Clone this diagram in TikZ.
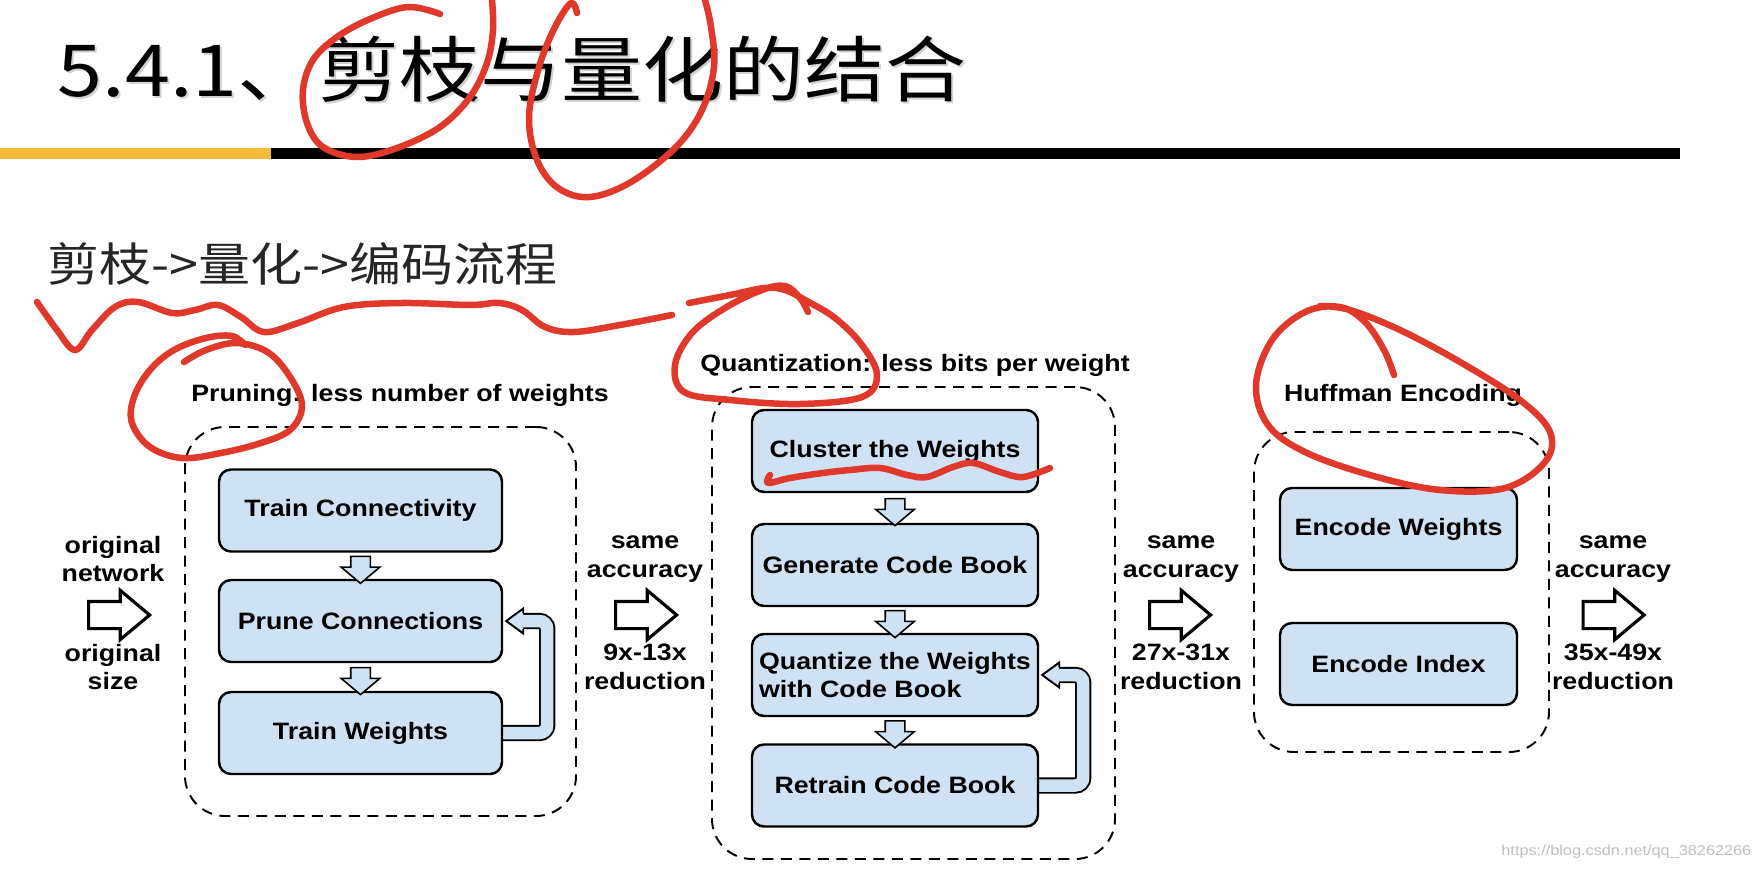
\documentclass[tikz,border=0pt]{standalone}
\usepackage{fontspec}
\setmainfont{Liberation Sans}[FakeStretch=1.13]
\newfontfamily\cjkfont{Noto Sans CJK SC}[FakeStretch=1.13]
\usetikzlibrary{arrows.meta, positioning, shapes.arrows, calc, backgrounds}
\definecolor{cpblue}{HTML}{CFE2F3}
\definecolor{cporange}{HTML}{F6BB3B}
\definecolor{cpink}{HTML}{E0392B}

\begin{document}
\begin{tikzpicture}[
  every node/.style={font=\fontsize{6.74}{8.1}\selectfont\bfseries},
  stepbox/.style={rectangle, rounded corners=1.2mm, draw, line width=0.7pt, fill=cpblue, minimum width=#1, minimum height=0.82cm, inner xsep=1pt, align=center},
  groupbox/.style={rectangle, rounded corners=4mm, draw, line width=0.55pt, dash pattern=on 1.1mm off 0.75mm},
  sidelabel/.style={align=center},
  stagearrow/.style={single arrow, draw, line width=0.9pt, fill=white, inner xsep=0pt, inner ysep=0.12cm, minimum height=0.61cm, single arrow head extend=0.11cm, single arrow tip angle=80},
  flowarrow/.style={single arrow, draw, line width=0.45pt, fill=cpblue, inner xsep=0pt, inner ysep=0.09cm, rotate=-90, minimum height=0.27cm, single arrow head extend=0.095cm, single arrow tip angle=100},
  loopband/.style={draw=black, line width=0.55pt, double=cpblue, double distance=1.25mm, rounded corners=0.8mm},
  looptip/.style={line width=0.55pt, line join=miter},
  inkline/.style={cpink, line width=0.65mm, line cap=round, line join=round},
]
\useasboundingbox (0,0) rectangle (17.6,8.74);

% Slide title and rule
\node[anchor=base west, inner sep=0pt, text=black!18, font=\cjkfont\fontsize{20.4}{24}\selectfont] (titleshadow) at (0.59, 7.75) {5.4.1、剪枝与量化的结合};
\node[anchor=base west, inner sep=0pt, font=\cjkfont\fontsize{20.4}{24}\selectfont] (title) at (0.57, 7.77) {5.4.1、剪枝与量化的结合};
\draw[cporange, line width=1.1mm] (0,7.205) -- (2.71,7.205);
\draw[black, line width=1.1mm] (2.71,7.205) -- (16.80,7.205);

\node[anchor=base west, inner sep=0pt, text=black!85, font=\cjkfont\fontsize{13.1}{15}\selectfont] (subtitle) at (0.47, 5.92) {剪枝->量化->编码流程};

% Stage groups
\node[groupbox, minimum width=3.91cm, minimum height=3.89cm] (prunegrp) at (3.805, 2.525) {};
\node[groupbox, minimum width=4.03cm, minimum height=4.72cm] (quantgrp) at (9.135, 2.51) {};
\node[groupbox, minimum width=2.95cm, minimum height=3.20cm] (huffgrp) at (14.015, 2.82) {};

\node (prunelbl) at (4.00, 4.79) {Pruning: less number of weights};
\node (quantlbl) at (9.15, 5.09) {Quantization: less bits per weight};
\node (hufflbl) at (14.03, 4.79) {Huffman Encoding};

% Pruning steps
\node[stepbox=2.83cm] (tc) at (3.605, 3.635) {Train Connectivity};
\node[stepbox=2.83cm] (pc) at (3.605, 2.53) {Prune Connections};
\node[stepbox=2.83cm] (tw) at (3.605, 1.41) {Train Weights};

% Quantization steps
\node[stepbox=2.86cm] (cw) at (8.95, 4.23) {Cluster the Weights};
\node[stepbox=2.86cm] (gcb) at (8.95, 3.09) {Generate Code Book};
\node[stepbox=2.86cm, align=left] (qw) at (8.95, 1.99) {Quantize the Weights\\with Code Book};
\node[stepbox=2.86cm] (rcb) at (8.95, 0.885) {Retrain Code Book};

% Huffman steps
\node[stepbox=2.37cm] (ew) at (13.985, 3.45) {Encode Weights};
\node[stepbox=2.37cm] (ei) at (13.985, 2.10) {Encode Index};

\node[flowarrow] (tc2pc) at ($(tc.south)!0.5!(pc.north)$) {};
\node[flowarrow] (pc2tw) at ($(pc.south)!0.5!(tw.north)$) {};
\node[flowarrow] (cw2gcb) at ($(cw.south)!0.5!(gcb.north)$) {};
\node[flowarrow] (gcb2qw) at ($(gcb.south)!0.5!(qw.north)$) {};
\node[flowarrow] (qw2rcb) at ($(qw.south)!0.5!(rcb.north)$) {};

% Retrain loops
\begin{scope}[on background layer]
  \draw[loopband] (tw.east) -- ++(0.44,0) |- ([xshift=2mm]pc.east);
  \draw[loopband] (rcb.east) -- ++(0.44,0) |- ([xshift=2mm]qw.east);
\end{scope}
\fill[cpblue] ([xshift=2mm,yshift=1.25mm]pc.east) -- ([xshift=0.3mm]pc.east) -- ([xshift=2mm,yshift=-1.25mm]pc.east) -- cycle;
\draw[looptip] ([xshift=2mm,yshift=0.8mm]pc.east) -- ++(0,0.45mm) -- ([xshift=0.3mm]pc.east) -- ([xshift=2mm,yshift=-1.25mm]pc.east) -- ++(0,0.45mm);
\fill[cpblue] ([xshift=2mm,yshift=1.25mm]qw.east) -- ([xshift=0.3mm]qw.east) -- ([xshift=2mm,yshift=-1.25mm]qw.east) -- cycle;
\draw[looptip] ([xshift=2mm,yshift=0.8mm]qw.east) -- ++(0,0.45mm) -- ([xshift=0.3mm]qw.east) -- ([xshift=2mm,yshift=-1.25mm]qw.east) -- ++(0,0.45mm);

% Between stages
\node[sidelabel] (orignet) at (1.13, 3.15) {original\\network};
\node[stagearrow] (arr0) at (1.11, 2.59) {};
\node[sidelabel] (origsize) at (1.13, 2.07) {original\\size};

\node[sidelabel] (acc1) at (6.45, 3.15) {same\\accuracy};
\node[stagearrow] (arr1) at (6.38, 2.59) {};
\node[sidelabel] (red1) at (6.45, 2.07) {9x-13x\\reduction};

\node[sidelabel] (acc2) at (11.81, 3.15) {same\\accuracy};
\node[stagearrow] (arr2) at (11.72, 2.59) {};
\node[sidelabel] (red2) at (11.81, 2.07) {27x-31x\\reduction};

\node[sidelabel] (acc3) at (16.13, 3.15) {same\\accuracy};
\node[stagearrow] (arr3) at (16.055, 2.59) {};
\node[sidelabel] (red3) at (16.13, 2.07) {35x-49x\\reduction};

\node[anchor=base east, inner sep=0pt, text=black!25, font=\fontsize{4.1}{5}\selectfont] (wmark) at (17.52, 0.19) {https://blog.csdn.net/qq\_38262266};

% Hand-drawn red marks
\draw[inkline] plot[smooth, tension=0.6] coordinates {(4.40,8.60) (4.08,8.67) (3.70,8.55) (3.37,8.37) (3.13,8.14) (3.03,7.84) (3.07,7.51) (3.23,7.27) (3.57,7.17) (3.97,7.26) (4.40,7.47) (4.70,7.77) (4.87,8.11) (4.93,8.44) (4.92,8.74)};
\draw[inkline] plot[smooth, tension=0.6] coordinates {(5.77,8.61) (5.71,8.71) (5.55,8.47) (5.39,8.07) (5.29,7.57) (5.37,7.14) (5.58,6.86) (5.90,6.77) (6.31,6.92) (6.76,7.27) (7.02,7.64) (7.14,8.07) (7.11,8.47) (7.05,8.74)};
\draw[inkline] plot[smooth, tension=0.6] coordinates {(0.37,5.72) (0.57,5.44) (0.75,5.24) (0.92,5.44) (1.15,5.67) (1.38,5.72) (1.72,5.61) (1.95,5.64) (2.18,5.69) (2.41,5.57) (2.64,5.42) (2.98,5.51) (3.44,5.67) (4.02,5.71) (4.70,5.69) (4.99,5.71) (5.22,5.64) (5.45,5.47) (5.74,5.42) (6.20,5.49) (6.72,5.59)};
\draw[inkline] plot[smooth, tension=0.6] coordinates {(6.89,5.71) (7.30,5.79) (7.65,5.86) (7.85,5.84) (8.05,5.74) (8.35,5.56) (8.62,5.29) (8.77,4.99) (8.62,4.77) (8.00,4.70) (7.30,4.74) (6.84,4.82) (6.75,5.09) (6.92,5.41) (7.25,5.66) (7.62,5.84) (7.85,5.88) (8.00,5.76) (8.08,5.62)};
\draw[inkline] plot[smooth, tension=0.6] coordinates {(1.84,5.12) (2.06,5.24) (2.37,5.31) (2.69,5.21) (2.92,4.94) (3.02,4.67) (2.90,4.44) (2.61,4.31) (2.21,4.21) (1.82,4.16) (1.50,4.27) (1.32,4.51) (1.34,4.77) (1.50,5.04) (1.74,5.24) (2.06,5.36) (2.32,5.38) (2.45,5.29)};
\draw[inkline] plot[smooth, tension=0.6] coordinates {(13.94,4.99) (13.84,5.24) (13.65,5.52) (13.40,5.67) (13.05,5.62) (12.72,5.34) (12.56,4.89) (12.68,4.49) (13.05,4.22) (13.70,3.99) (14.40,3.84) (15.05,3.86) (15.45,4.12) (15.50,4.42) (15.20,4.74) (14.60,5.12) (14.00,5.44) (13.50,5.64) (13.20,5.68)};
\draw[inkline] plot[smooth, tension=0.6] coordinates {(7.70,3.99) (7.68,3.91) (7.90,3.96) (8.23,4.01) (8.50,4.04) (8.80,4.06) (9.07,3.99) (9.27,3.97) (9.53,4.07) (9.73,4.11) (10.00,4.02) (10.23,3.97) (10.50,4.06)};

\end{tikzpicture}
\end{document}
